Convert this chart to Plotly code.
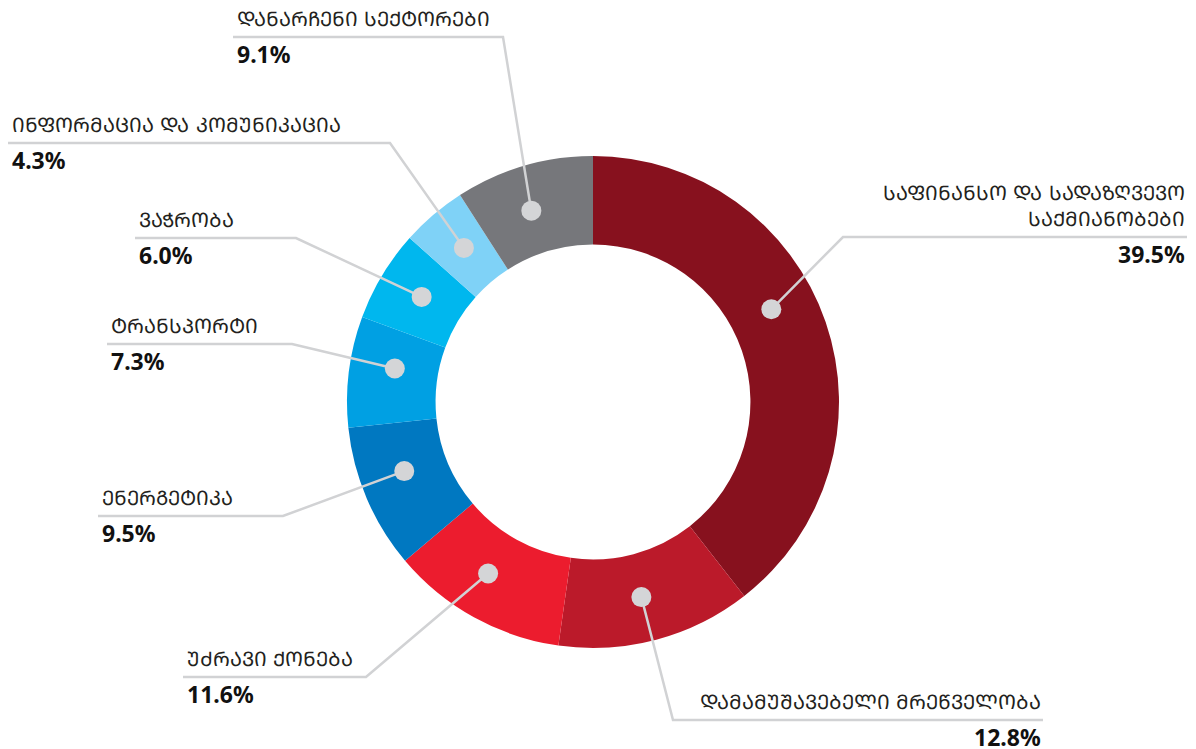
import math
import plotly.graph_objects as go

# ---- data ----
sectors = [
    "ᲡᲐᲤᲘᲜᲐᲜᲡᲝ ᲓᲐ ᲡᲐᲓᲐᲖᲦᲕᲔᲕᲝ<br>ᲡᲐᲥᲛᲘᲐᲜᲝᲑᲔᲑᲘ",
    "ᲓᲐᲛᲐᲛᲣᲨᲐᲕᲔᲑᲔᲚᲘ ᲛᲠᲔᲬᲕᲔᲚᲝᲑᲐ",
    "Უ\u1CABᲠᲐᲕᲘ ᲥᲝᲜᲔᲑᲐ",
    "ᲔᲜᲔᲠᲒᲔᲢᲘᲙᲐ",
    "ᲢᲠᲐᲜᲡᲞᲝᲠᲢᲘ",
    "ᲕᲐᲭᲠᲝᲑᲐ",
    "ᲘᲜᲤᲝᲠᲛᲐᲪᲘᲐ ᲓᲐ ᲙᲝᲛᲣᲜᲘᲙᲐᲪᲘᲐ",
    "ᲓᲐᲜᲐᲠᲩᲔᲜᲘ ᲡᲔᲥᲢᲝᲠᲔᲑᲘ",
]
shares = [39.5, 12.8, 11.6, 9.5, 7.3, 6.0, 4.3, 9.1]
share_labels = ["39.5%", "12.8%", "11.6%", "9.5%", "7.3%", "6.0%", "4.3%", "9.1%"]

# ---- style / layout ----
colors = ["#87111e", "#bb1a2a", "#ec1c2e", "#0078c1", "#00a0e3", "#00b7ee", "#7fd2f7", "#76777b"]
W, H = 1196, 749
CX, CY, R_OUT, HOLE = 593, 402, 246, 0.64
R_DOT = 201
dot_shift_deg = [-8.5, 1, 2.5, 3, 2.5, 0.5, 0.5, -1.5]
# label layout: (elbow x, underline y, underline far x, side)
label_pos = [
    (843, 237, 1187, "right"),
    (673, 720, 1043, "right"),
    (366, 677, 183, "left"),
    (283, 516, 98, "left"),
    (292, 344, 107, "left"),
    (296, 238, 135, "left"),
    (390, 143, 8, "left"),
    (503, 37, 233, "left"),
]

fig = go.Figure()
fig.add_trace(go.Pie(
    values=shares, labels=[s.replace("<br>", " ") for s in sectors],
    marker=dict(colors=colors, line=dict(width=0)),
    hole=HOLE, sort=False, direction="clockwise", rotation=0,
    textinfo="none", hoverinfo="label+percent", showlegend=False,
    domain=dict(x=[(CX - R_OUT) / W, (CX + R_OUT) / W],
                y=[(H - CY - R_OUT) / H, (H - CY + R_OUT) / H]),
))
# invisible trace to instantiate the pixel axes
fig.add_trace(go.Scatter(x=[0, W], y=[0, H], mode="markers", marker=dict(opacity=0),
                         hoverinfo="skip", showlegend=False))

total = sum(shares)
cum = 0
line_color = "#d1d2d4"
annotations, shapes = [], []
for i, v in enumerate(shares):
    mid = (cum + v / 2) / total * 360 + dot_shift_deg[i]
    cum += v
    a = math.radians(mid)
    dx, dy = CX + R_DOT * math.sin(a), CY - R_DOT * math.cos(a)
    ex, uy, fx, side = label_pos[i]
    shapes.append(dict(type="path", xref="x", yref="y", layer="above",
                       path=f"M {dx:.1f} {dy:.1f} L {ex} {uy} L {fx} {uy}",
                       line=dict(color=line_color, width=2.5)))
    shapes.append(dict(type="circle", xref="x", yref="y", layer="above",
                       x0=dx - 10, x1=dx + 10, y0=dy - 10, y1=dy + 10,
                       fillcolor="#d4d5d7", line=dict(width=0)))
    anchor = "right" if side == "right" else "left"
    tx = fx if side == "right" else fx + 2
    annotations.append(dict(x=tx, y=uy - 4, xref="x", yref="y", text=sectors[i],
                            xanchor=anchor, yanchor="bottom", showarrow=False,
                            align=anchor,
                            font=dict(family="DejaVu Sans", size=20, color="#231f20")))
    annotations.append(dict(x=tx, y=uy - 1, xref="x", yref="y", text="<b>" + share_labels[i] + "</b>",
                            xanchor=anchor, yanchor="top", showarrow=False,
                            font=dict(family="Noto Sans", size=23, color="#111111")))

fig.update_layout(
    width=W, height=H, margin=dict(l=0, r=0, t=0, b=0),
    paper_bgcolor="white", plot_bgcolor="rgba(0,0,0,0)",
    xaxis=dict(range=[0, W], visible=False, fixedrange=True),
    yaxis=dict(range=[H, 0], visible=False, fixedrange=True),
    annotations=annotations, shapes=shapes,
)
fig.write_html("out.html", config={"displayModeBar": False},
               post_script="document.body.style.margin='0';")
